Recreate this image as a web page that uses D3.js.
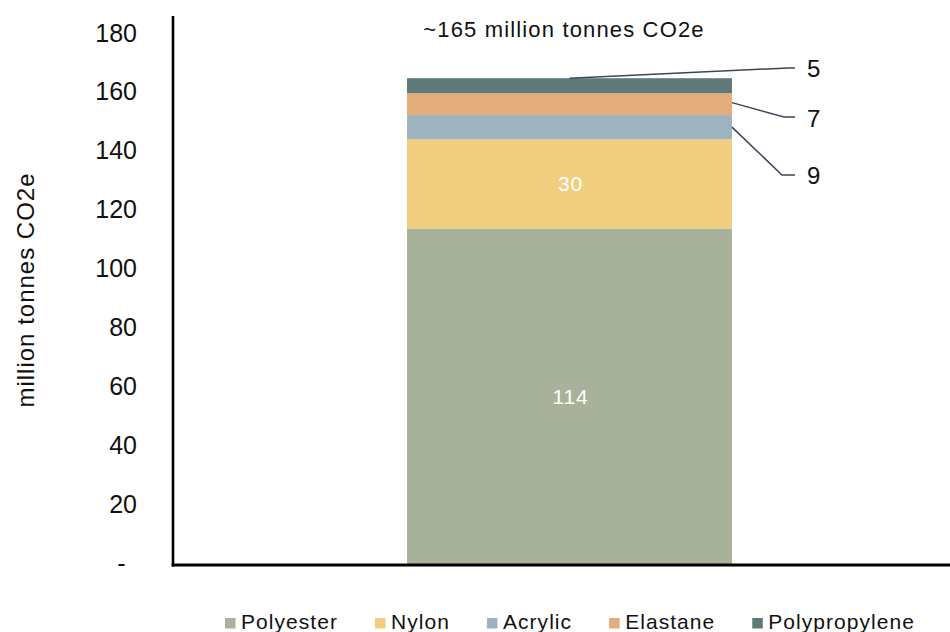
<!DOCTYPE html>
<html>
<head>
<meta charset="utf-8">
<script src="https://cdn.jsdelivr.net/npm/d3@7"></script>
<style>
  html, body { margin: 0; padding: 0; background: #fff; }
  svg { display: block; font-family: "Liberation Sans", Arial, sans-serif; }
</style>
</head>
<body>
<svg id="chart" width="950" height="632"></svg>
<script>
// ---- data ----
const category = ["Synthetic fibres"];
const series = ["Polyester", "Nylon", "Acrylic", "Elastane", "Polypropylene"];
const values = [114, 30.3, 8.2, 7.4, 5.1];
const valueLabels = ["114", "30", "9", "7", "5"];
const colors = ["#a8b199", "#f1cd7f", "#9eb3c0", "#e3ae7c", "#5f7979"];
const yTicks = [0, 20, 40, 60, 80, 100, 120, 140, 160, 180];
const titleText = "~165 million tonnes CO2e";
const yTitle = "million tonnes CO2e";

// ---- layout ----
const svg = d3.select("#chart");
const axisX = 173, baseY = 565;

const y = d3.scaleLinear().domain([0, 180]).range([564.5, 34]);
const x = d3.scaleBand().domain(category).range([axisX, 966]).padding(0.4187);

// stacked data
const stackRow = {};
series.forEach((s, i) => stackRow[s] = values[i]);
const stacked = d3.stack().keys(series)([stackRow]);

// bars
const bw = x.bandwidth();
const bx = x(category[0]);
svg.append("g").selectAll("rect")
  .data(stacked)
  .join("rect")
  .attr("x", bx)
  .attr("width", bw)
  .attr("y", d => y(d[0][1]))
  .attr("height", d => y(d[0][0]) - y(d[0][1]))
  .attr("fill", (d, i) => colors[i]);

// inside labels for big segments
[0, 1].forEach(i => {
  const d = stacked[i][0];
  svg.append("text")
    .attr("x", bx + bw / 2 + 1)
    .attr("y", (y(d[0]) + y(d[1])) / 2)
    .attr("text-anchor", "middle")
    .attr("dominant-baseline", "central")
    .attr("fill", "#ffffff")
    .attr("font-size", 21)
    .attr("letter-spacing", 0.8)
    .text(valueLabels[i]);
});

// leader-line labels for small segments
const leaders = [
  { i: 4, sx: bx + bw / 2, sy: d => y(d[1]), ex: 788, ey: 68, ly: 68 },
  { i: 3, sx: bx + bw, sy: d => (y(d[0]) + y(d[1])) / 2 - 1.5, ex: 784, ey: 117, ly: 118 },
  { i: 2, sx: bx + bw, sy: d => (y(d[0]) + y(d[1])) / 2, ex: 782, ey: 175, ly: 175 }
];
leaders.forEach(l => {
  const d = stacked[l.i][0];
  const sy = l.sy(d);
  svg.append("path")
    .attr("d", `M${l.sx},${sy}L${l.ex},${l.ey}L795,${l.ey}`)
    .attr("fill", "none")
    .attr("stroke", "#3b4656")
    .attr("stroke-width", 1.5);
  svg.append("text")
    .attr("x", 807)
    .attr("y", l.ly)
    .attr("dominant-baseline", "central")
    .attr("font-size", 24)
    .attr("fill", "#111")
    .text(valueLabels[l.i]);
});

// y axis
const yAxis = d3.axisLeft(y)
  .tickValues(yTicks)
  .tickSize(0)
  .tickPadding(36)
  .tickFormat(v => v === 0 ? "-" : d3.format("d")(v));
const gy = svg.append("g")
  .attr("transform", `translate(${axisX},0)`)
  .call(yAxis);
gy.select(".domain").remove();
gy.selectAll("text")
  .attr("font-size", 25)
  .attr("font-family", "'Liberation Sans', Arial, sans-serif")
  .attr("fill", "#111")
  .attr("dy", null)
  .attr("y", -2)
  .attr("dominant-baseline", "central");
gy.selectAll(".tick").filter(d => d === 0).select("text")
  .attr("text-anchor", "middle")
  .attr("x", -51.5)
  .attr("y", -2);

// axis lines
svg.append("line")
  .attr("x1", axisX).attr("x2", axisX)
  .attr("y1", 16).attr("y2", baseY + 1.5)
  .attr("stroke", "#000").attr("stroke-width", 2.6);
svg.append("line")
  .attr("x1", axisX - 1.3).attr("x2", 950)
  .attr("y1", baseY).attr("y2", baseY)
  .attr("stroke", "#000").attr("stroke-width", 3);

// title
svg.append("text")
  .attr("x", 564)
  .attr("y", 29.5)
  .attr("text-anchor", "middle")
  .attr("dominant-baseline", "central")
  .attr("font-size", 22)
  .attr("letter-spacing", 1.15)
  .attr("fill", "#111")
  .text(titleText);

// y title
svg.append("text")
  .attr("transform", "translate(25,290) rotate(-90)")
  .attr("text-anchor", "middle")
  .attr("dominant-baseline", "central")
  .attr("font-size", 24)
  .attr("letter-spacing", 1)
  .attr("fill", "#111")
  .text(yTitle);

// legend
const legend = svg.append("g");
let lx = 225;
series.forEach((s, i) => {
  legend.append("rect")
    .attr("x", lx).attr("y", 618)
    .attr("width", 10.5).attr("height", 10.5)
    .attr("fill", colors[i]);
  const t = legend.append("text")
    .attr("x", lx + 16)
    .attr("y", 621)
    .attr("dominant-baseline", "central")
    .attr("font-size", 21)
    .attr("letter-spacing", 1.05)
    .attr("fill", "#111")
    .text(s);
  const w = t.node().getComputedTextLength();
  lx = lx + 16 + w + 37;
});
</script>
</body>
</html>
